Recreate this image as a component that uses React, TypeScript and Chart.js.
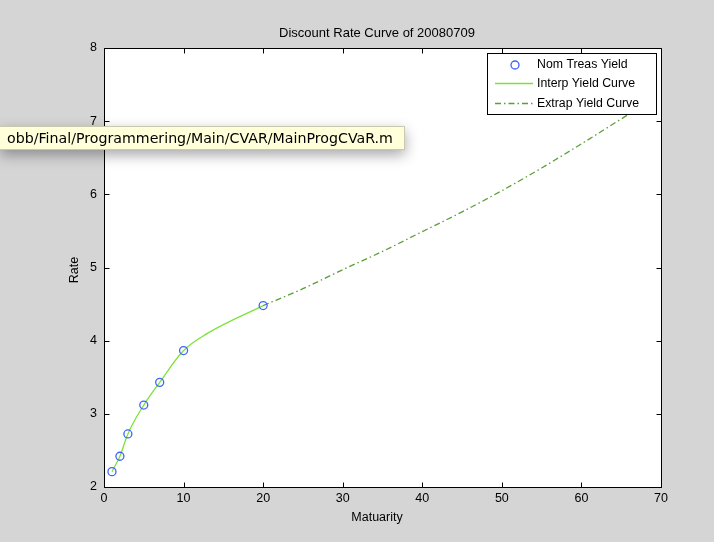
import React, { useEffect, useRef } from "react";
import { Chart, registerables } from "chart.js";

Chart.register(...registerables);

// Nominal treasury yields (maturity in years, rate in %)
const treasMaturities = [1, 2, 3, 5, 7, 10, 20];
const treasYields = [2.21, 2.42, 2.725, 3.12, 3.43, 3.865, 4.48];

// Interpolated yield curve knots
const interpMaturities = [1, 2, 3, 5, 7, 10, 13, 20];
const interpRates = [2.21, 2.42, 2.725, 3.12, 3.43, 3.865, 4.1, 4.48];

// Extrapolated yield curve
const extrapMaturities = [20, 25, 30, 35, 40, 45, 50, 55, 60, 65, 69];
const extrapRates = [4.48, 4.71, 4.97, 5.22, 5.49, 5.76, 6.05, 6.36, 6.69, 7.03, 7.3];

const titleText = "Discount Rate Curve of 20080709";
const xLabel = "Matuarity";
const yLabel = "Rate";
const pathText = "obb/Final/Programmering/Main/CVAR/MainProgCVaR.m";

const W = 714;
const H = 542;
const FONT = "Helvetica, Arial, 'Liberation Sans', sans-serif";
const BG = "#d5d5d5";
const MARKER = "#3f63ff";
const INTERP = "#7ee23c";
const EXTRAP = "#5c9e3a";
const EXTRAP_DASH = [6, 3, 1.5, 3];

const pts = (xs: number[], ys: number[]) => xs.map((x, i) => ({ x, y: ys[i] }));

const figurePlugin = {
  id: "figure",
  beforeDraw(chart: any) {
    const { ctx, chartArea: a } = chart;
    ctx.save();
    ctx.fillStyle = BG;
    ctx.fillRect(0, 0, chart.width, chart.height);
    ctx.fillStyle = "#ffffff";
    ctx.fillRect(a.left, a.top, a.right - a.left, a.bottom - a.top);
    ctx.restore();
  },
  afterDraw(chart: any) {
    const { ctx, chartArea: a, scales } = chart;
    const xs = scales.x;
    const ys = scales.y;
    const tl = 5;
    ctx.save();
    ctx.strokeStyle = "#000";
    ctx.lineWidth = 1;
    ctx.setLineDash([]);
    ctx.beginPath();
    const L = Math.round(a.left) + 0.5;
    const R = Math.round(a.right) + 0.5;
    const T = Math.round(a.top) + 0.5;
    const B = Math.round(a.bottom) + 0.5;
    ctx.rect(L, T, R - L, B - T);
    // inward tick marks on all four sides
    xs.ticks.forEach((t: any) => {
      const px = Math.round(xs.getPixelForValue(t.value)) + 0.5;
      ctx.moveTo(px, B);
      ctx.lineTo(px, B - tl);
      ctx.moveTo(px, T);
      ctx.lineTo(px, T + tl);
    });
    ys.ticks.forEach((t: any) => {
      const py = Math.round(ys.getPixelForValue(t.value)) + 0.5;
      ctx.moveTo(L, py);
      ctx.lineTo(L + tl, py);
      ctx.moveTo(R, py);
      ctx.lineTo(R - tl, py);
    });
    ctx.stroke();

    // title and axis labels
    ctx.fillStyle = "#000";
    ctx.textAlign = "center";
    ctx.textBaseline = "middle";
    ctx.font = `13px ${FONT}`;
    ctx.fillText(titleText, 377, 33);
    ctx.font = `12.5px ${FONT}`;
    ctx.fillText(xLabel, 377, 518);
    ctx.save();
    ctx.translate(75, 270);
    ctx.rotate(-Math.PI / 2);
    ctx.fillText(yLabel, 0, 0);
    ctx.restore();

    // legend box
    const lx = 487.5, ly = 53.5, lw = 169, lh = 61;
    ctx.fillStyle = "#fff";
    ctx.fillRect(lx, ly, lw, lh);
    ctx.strokeStyle = "#000";
    ctx.lineWidth = 1;
    ctx.strokeRect(lx, ly, lw, lh);
    const rows = [65, 83.5, 103.5];
    const ds = chart.data.datasets;
    const swatch = [MARKER, INTERP, EXTRAP];
    const dashes = [[], [], EXTRAP_DASH];
    [0, 1, 2].forEach((i) => {
      const y = rows[i];
      ctx.beginPath();
      ctx.strokeStyle = swatch[i];
      if (i === 0) {
        ctx.lineWidth = 1.3;
        ctx.arc(515, y, 4, 0, Math.PI * 2);
      } else {
        ctx.lineWidth = 1.3;
        ctx.setLineDash(dashes[i]);
        ctx.moveTo(495, y);
        ctx.lineTo(533, y);
      }
      ctx.stroke();
      ctx.setLineDash([]);
      ctx.fillStyle = "#000";
      ctx.textAlign = "left";
      ctx.font = `12.3px ${FONT}`;
      ctx.fillText(ds[i].label, 537, y);
    });
    ctx.restore();
  },
};

export default function App() {
  const ref = useRef<HTMLCanvasElement | null>(null);

  useEffect(() => {
    document.body.style.margin = "0";
    const canvas = ref.current;
    if (!canvas) return;
    const chart = new Chart(canvas, {
      type: "scatter",
      data: {
        datasets: [
          {
            label: "Nom Treas Yield",
            data: pts(treasMaturities, treasYields),
            showLine: false,
            borderColor: MARKER,
            backgroundColor: "rgba(0,0,0,0)",
            pointRadius: 4,
            pointBorderWidth: 1.3,
            pointStyle: "circle",
            order: 0,
          },
          {
            label: "Interp Yield Curve",
            data: pts(interpMaturities, interpRates),
            showLine: true,
            borderColor: INTERP,
            borderWidth: 1.3,
            pointRadius: 0,
            cubicInterpolationMode: "monotone",
            order: 1,
          },
          {
            label: "Extrap Yield Curve",
            data: pts(extrapMaturities, extrapRates),
            showLine: true,
            borderColor: EXTRAP,
            borderWidth: 1.3,
            borderDash: EXTRAP_DASH,
            pointRadius: 0,
            cubicInterpolationMode: "monotone",
            order: 2,
          },
        ],
      },
      options: {
        responsive: false,
        animation: false,
        devicePixelRatio: 1,
        layout: { padding: { left: 0, right: 53, top: 48, bottom: 0 } },
        plugins: {
          legend: { display: false },
          tooltip: { enabled: false },
          title: { display: false },
        },
        events: [],
        scales: {
          x: {
            type: "linear",
            min: 0,
            max: 70,
            grid: { display: false, drawTicks: false },
            border: { display: false },
            ticks: {
              stepSize: 10,
              padding: 4,
              color: "#000",
              font: { family: FONT, size: 12.5 },
              maxRotation: 0,
            },
            afterFit: (s: any) => {
              s.height = 55;
            },
          },
          y: {
            type: "linear",
            min: 2,
            max: 8,
            grid: { display: false, drawTicks: false },
            border: { display: false },
            ticks: {
              stepSize: 1,
              padding: 7,
              color: "#000",
              font: { family: FONT, size: 12.5 },
            },
            afterFit: (s: any) => {
              s.width = 104;
            },
          },
        },
      },
      plugins: [figurePlugin],
    } as any);
    return () => chart.destroy();
  }, []);

  return (
    <div style={{ position: "relative", width: W, height: H, background: BG }}>
      <canvas ref={ref} width={W} height={H} style={{ display: "block" }} />
      <div
        style={{
          position: "absolute",
          left: 0,
          top: 126,
          width: 405,
          height: 24,
          boxSizing: "border-box",
          background: "#ffffda",
          border: "1px solid #c9c9b0",
          borderLeft: "none",
          boxShadow: "0 5px 14px rgba(0,0,0,0.35)",
          fontFamily: "'DejaVu Sans', 'Noto Sans', sans-serif",
          fontSize: 14.2,
          lineHeight: "22px",
          paddingLeft: 7,
          color: "#000",
          whiteSpace: "nowrap",
          overflow: "hidden",
        }}
      >
        {pathText}
      </div>
    </div>
  );
}
